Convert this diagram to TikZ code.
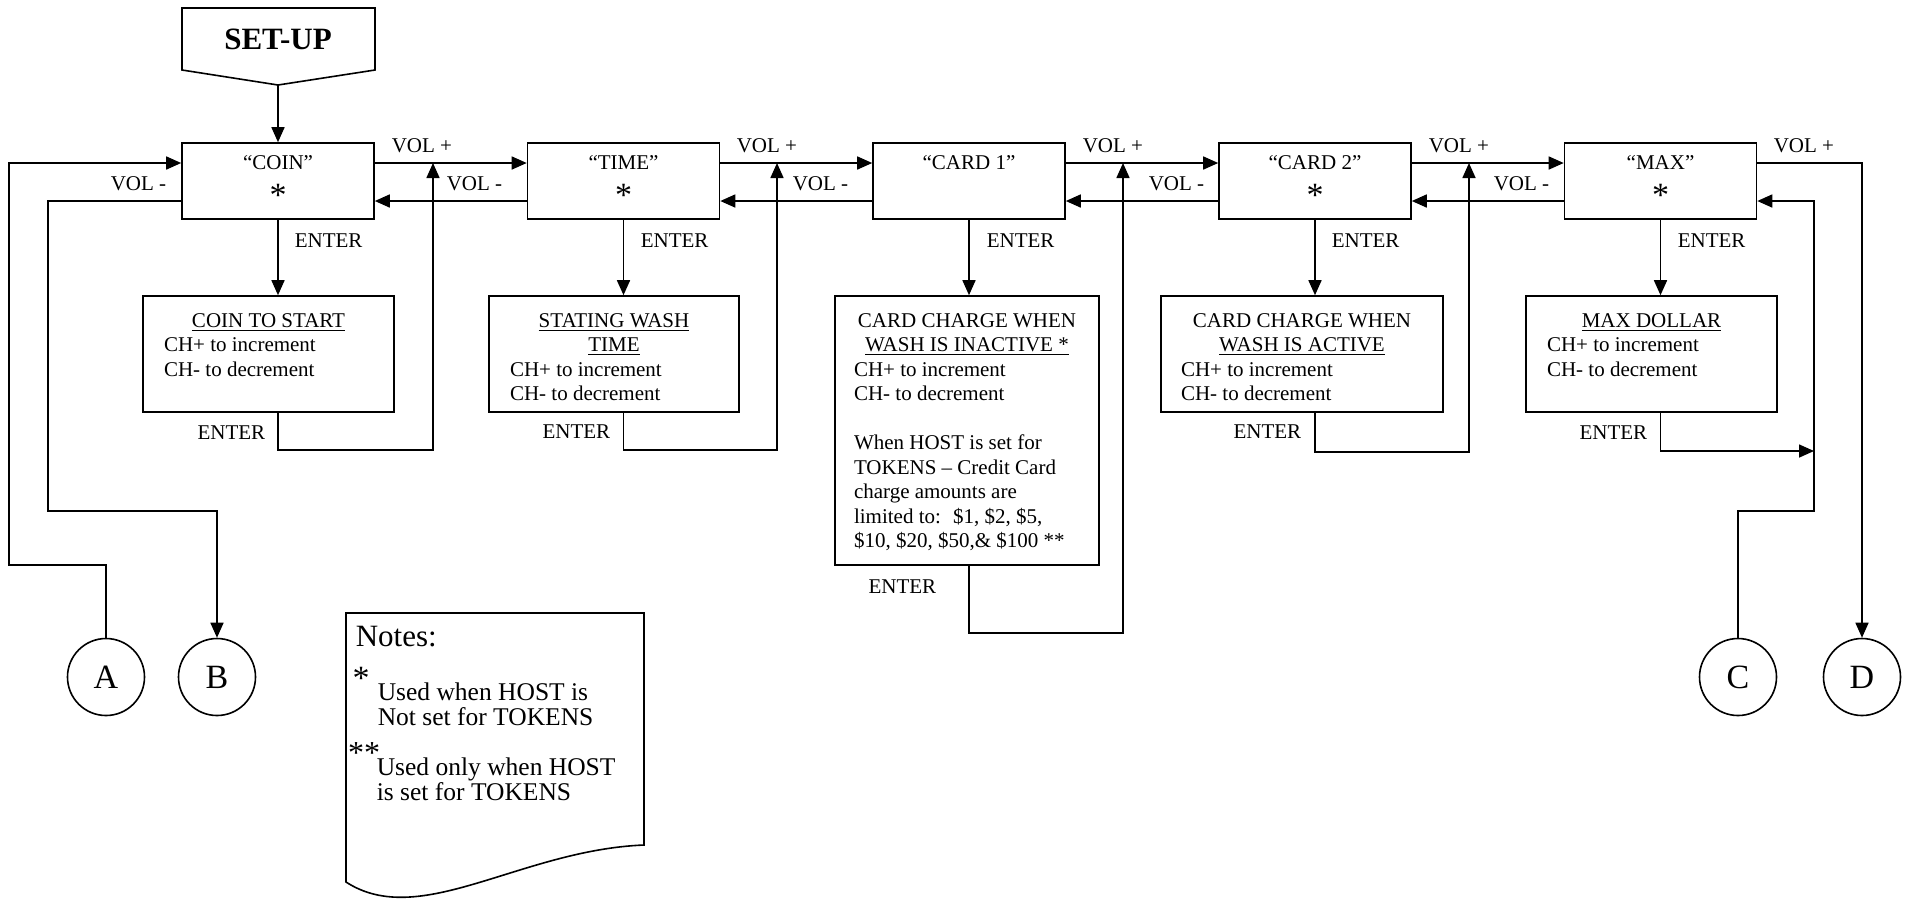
\documentclass[tikz,border=0pt]{standalone}
\usepackage{fontspec}
\setmainfont{Liberation Serif}
\usetikzlibrary{arrows.meta}
\newcommand{\firstline}{\rule{0pt}{15.5pt}}

\begin{document}
\begin{tikzpicture}[x=0.5pt,y=-0.5pt,line width=0.8pt,
        >={Triangle[length=7.5pt,width=6.5pt]},
        every node/.style={font=\fontsize{10.5}{12.25}\selectfont},
        menubox/.style={rectangle,draw,minimum width=96pt,minimum height=38pt,
                        inner sep=0pt,align=center},
        infobox/.style={rectangle,draw,inner xsep=10.5pt,inner ysep=0pt},
        tag/.style={inner sep=0pt},
        jump/.style={circle,draw,minimum size=38.5pt,inner sep=0pt,
                     font=\fontsize{17}{20}\selectfont}]
  \useasboundingbox (0,0) rectangle (1908,902);

  % set-up banner
  \draw (182,8) -- (375,8) -- (375,70) -- (278,85) -- (182,70) -- cycle;
  \node[font=\fontsize{15.5}{18}\selectfont\bfseries] (setup) at (278,39) {SET-UP};
  \coordinate (setuptip) at (278,85);

  % menu entries
  \node[menubox] (coin)  at (278,181)    {“COIN”\\[6pt]{\fontsize{17}{17}\selectfont *}};
  \node[menubox] (time)  at (623.5,181)  {“TIME”\\[6pt]{\fontsize{17}{17}\selectfont *}};
  \node[menubox] (card1) at (969,181)    {“CARD 1”\\[6pt]{\fontsize{17}{17}\selectfont\phantom{*}}};
  \node[menubox] (card2) at (1315,181)   {“CARD 2”\\[6pt]{\fontsize{17}{17}\selectfont *}};
  \node[menubox] (max)   at (1660.5,181) {“MAX”\\[6pt]{\fontsize{17}{17}\selectfont *}};

  % settings behind ENTER
  \node[infobox] (coinset) at (268.5,354) {\parbox[c][58pt][t]{104.5pt}{%
      {\centering\firstline\underline{COIN TO START}\par}\raggedright
      CH+ to increment\\CH- to decrement}};
  \node[infobox] (timeset) at (614,354) {\parbox[c][58pt][t]{104pt}{%
      {\centering\firstline\underline{STATING WASH}\\\underline{TIME}\par}\raggedright
      CH+ to increment\\CH- to decrement}};
  \node[infobox,inner xsep=9.5pt] (card1set) at (967,430.5) {\parbox[c][134.5pt][t]{113pt}{%
      {\centering\firstline CARD CHARGE WHEN\\\underline{WASH IS INACTIVE *}\par}\raggedright
      CH+ to increment\\CH- to decrement\\[12.25pt]
      When HOST is set for\\TOKENS – Credit Card\\charge amounts are\\
      limited to:~ \$1, \$2, \$5,\\\$10, \$20, \$50,\& \$100 **}};
  \node[infobox,inner xsep=10pt] (card2set) at (1302,354) {\parbox[c][58pt][t]{121pt}{%
      {\centering\firstline CARD CHARGE WHEN\\\underline{WASH IS ACTIVE}\par}\raggedright
      CH+ to increment\\CH- to decrement}};
  \node[infobox] (maxset) at (1651.5,354) {\parbox[c][58pt][t]{104.5pt}{%
      {\centering\firstline\underline{MAX DOLLAR}\par}\raggedright
      CH+ to increment\\CH- to decrement}};

  % connectors A B C D
  \node[jump] (A) at (106,677)  {A};
  \node[jump] (B) at (217,677)  {B};
  \node[jump] (C) at (1738,677) {C};
  \node[jump] (D) at (1862,677) {D};

  \coordinate (up1)  at (433,163);
  \coordinate (up2)  at (777,163);
  \coordinate (up3)  at (1123,163);
  \coordinate (up4)  at (1469,163);
  \coordinate (back) at (1814,451);
  \coordinate (lowA) at (9,565);
  \coordinate (lowB) at (48,511);
  \coordinate (lowC) at (1814,511);

  \draw[->] (setuptip) -- (coin.north);

  % VOL + / VOL - between entries
  \draw[->] ([yshift=9pt]coin.east)   -- ([yshift=9pt]time.west);
  \draw[->] ([yshift=9pt]time.east)   -- ([yshift=9pt]card1.west);
  \draw[->] ([yshift=9pt]card1.east)  -- ([yshift=9pt]card2.west);
  \draw[->] ([yshift=9pt]card2.east)  -- ([yshift=9pt]max.west);
  \draw[->] ([yshift=-10pt]time.west) -- ([yshift=-10pt]coin.east);
  \draw[->] ([yshift=-10pt]card1.west) -- ([yshift=-10pt]time.east);
  \draw[->] ([yshift=-10pt]card2.west) -- ([yshift=-10pt]card1.east);
  \draw[->] ([yshift=-10pt]max.west)  -- ([yshift=-10pt]card2.east);

  % ENTER down and back
  \draw[->] (coin.south)  -- (coin |- coinset.north);
  \draw[->] (time.south)  -- (time |- timeset.north);
  \draw[->] (card1.south) -- (card1 |- card1set.north);
  \draw[->] (card2.south) -- (card2 |- card2set.north);
  \draw[->] (max.south)   -- (max |- maxset.north);
  \draw[->] (coin |- coinset.south)   -- ++(0,37) -| (up1);
  \draw[->] (time |- timeset.south)   -- ++(0,37) -| (up2);
  \draw[->] (card1 |- card1set.south) -- ++(0,67) -| (up3);
  \draw[->] (card2 |- card2set.south) -- ++(0,39) -| (up4);
  \draw[->] (max |- maxset.south)     |- (back);

  % loops to the connectors
  \draw[->] (A) |- (lowA) |- ([yshift=9pt]coin.west);
  \draw[->] ([yshift=-10pt]coin.west) -| (lowB) -| (B);
  \draw[->] ([yshift=9pt]max.east) -| (D);
  \draw[->] (C) |- (lowC) |- ([yshift=-10pt]max.east);

  % labels
  \node[tag,anchor=west] (vu1) at (391,146)  {VOL +};
  \node[tag,anchor=west] (vu2) at (736,146)  {VOL +};
  \node[tag,anchor=west] (vu3) at (1082,146) {VOL +};
  \node[tag,anchor=west] (vu4) at (1428,146) {VOL +};
  \node[tag,anchor=west] (vu5) at (1773,146) {VOL +};
  \node[tag,anchor=east] (vd1) at (167,184)  {VOL -};
  \node[tag,anchor=east] (vd2) at (503,184)  {VOL -};
  \node[tag,anchor=east] (vd3) at (849,184)  {VOL -};
  \node[tag,anchor=east] (vd4) at (1205,184) {VOL -};
  \node[tag,anchor=east] (vd5) at (1550,184) {VOL -};
  \node[tag,anchor=west] (en1) at (294,241)  {ENTER};
  \node[tag,anchor=west] (en2) at (640,241)  {ENTER};
  \node[tag,anchor=west] (en3) at (986,241)  {ENTER};
  \node[tag,anchor=west] (en4) at (1331,241) {ENTER};
  \node[tag,anchor=west] (en5) at (1677,241) {ENTER};
  \node[tag,anchor=east] (eb1) at (266,433)  {ENTER};
  \node[tag,anchor=east] (eb2) at (611,432)  {ENTER};
  \node[tag,anchor=east] (eb3) at (937,587)  {ENTER};
  \node[tag,anchor=east] (eb4) at (1302,432) {ENTER};
  \node[tag,anchor=east] (eb5) at (1648,433) {ENTER};

  % notes sheet
  \draw (346,613) -- (644,613) -- (644,845)
        .. controls (520,850) and (420,930) .. (346,882) -- cycle;
  \node[tag,anchor=west,font=\fontsize{15.5}{18}\selectfont] (notes) at (355,637) {Notes:};
  \node[tag,anchor=base,font=\fontsize{17}{17}\selectfont] (onestar) at (361,689) {*};
  \node[tag,anchor=west,align=left,font=\fontsize{12.75}{12.5}\selectfont] (onenote)
       at (377,704) {Used when HOST is\\Not set for TOKENS};
  \node[tag,anchor=base,font=\fontsize{16}{16}\selectfont] (twostar) at (364,763) {**};
  \node[tag,anchor=west,align=left,font=\fontsize{12.75}{12.5}\selectfont] (twonote)
       at (376,779) {Used only when HOST\\is set for TOKENS};
\end{tikzpicture}
\end{document}
